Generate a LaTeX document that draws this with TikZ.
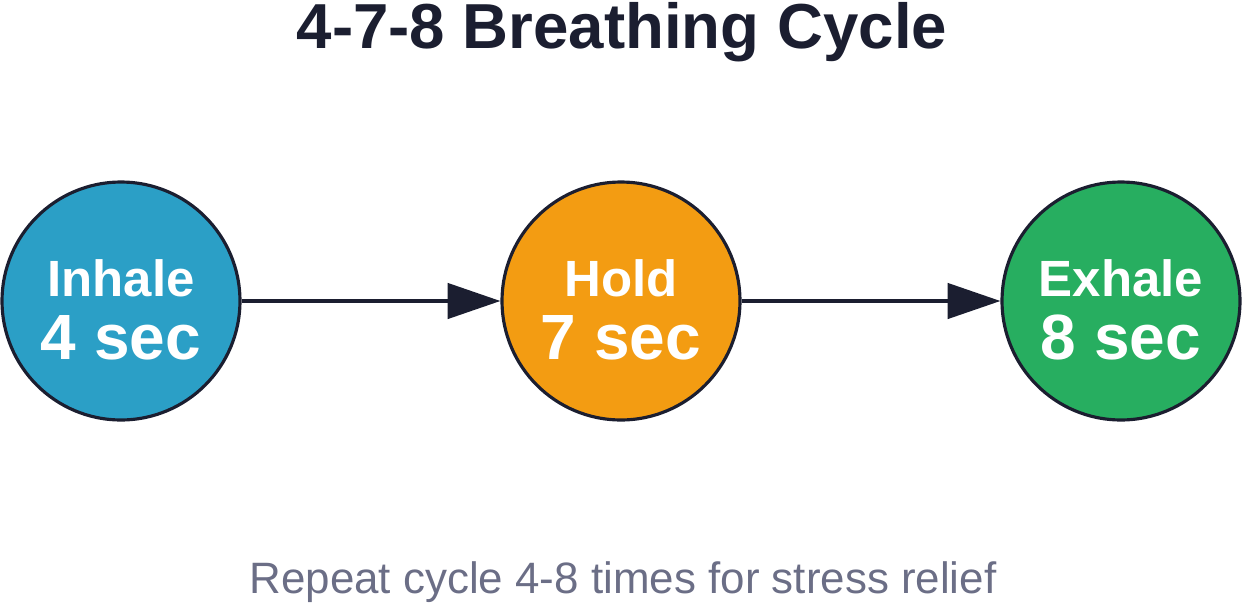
\documentclass[tikz,border=0pt]{standalone}
\usepackage{fontspec}
\setmainfont{Liberation Sans}
\usetikzlibrary{arrows.meta}
\usetikzlibrary{positioning}

\definecolor{inkdark}{HTML}{1B1E30}
\definecolor{notegray}{HTML}{6B6E86}
\definecolor{inhaleblue}{HTML}{2B9FC6}
\definecolor{holdorange}{HTML}{F39C12}
\definecolor{exhalegreen}{HTML}{27AE60}

\begin{document}
\begin{tikzpicture}[x=0.02cm,y=-0.02cm,
    phase/.style={circle,draw=inkdark,line width=1.8pt,minimum size=4.76cm,inner sep=0pt},
    phasetext/.style={text=white,align=center,inner sep=0pt,anchor=south,font=\bfseries\fontsize{36.4}{35.7}\selectfont},
    flow/.style={draw=inkdark,line width=2.2pt,-{Triangle[length=30pt,width=20pt]}}]
    \useasboundingbox (0,0) rectangle (1244,602);
    \node[anchor=base,inner sep=0pt,text=inkdark,font=\bfseries\fontsize{36.2}{36}\selectfont] (title) at (622,48) {4-7-8 Breathing Cycle};
    \node[phase,fill=inhaleblue] (inhale) at (121,301) {};
    \node[phase,fill=holdorange] (hold) at (621,301) {};
    \node[phase,fill=exhalegreen] (exhale) at (1121,301) {};
    \foreach\n/\w/\t in {inhale/Inhale/4,hold/Hold/7,exhale/Exhale/8} {
      \node[phasetext] (\n-text) at ([yshift=-1.18cm]\n.center) {{\fontsize{29}{35.7}\selectfont \w}\\\t\ sec};
    }
    \draw[flow] (inhale) -- (hold);
    \draw[flow] (hold) -- (exhale);
    \node[anchor=base,inner sep=0pt,text=notegray,font=\fontsize{25}{30}\selectfont] (note) at (623,593) {Repeat cycle 4-8 times for stress relief};
  \end{tikzpicture}
\end{document}
